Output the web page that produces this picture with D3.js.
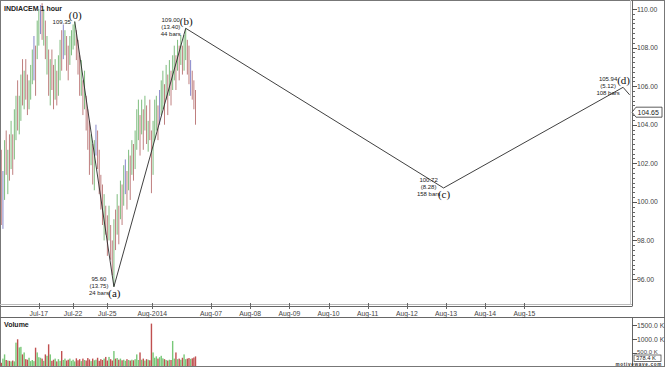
<!DOCTYPE html>
<html>
<head>
<meta charset="utf-8">
<script src="https://cdn.jsdelivr.net/npm/d3@7"></script>
<style>
body { margin: 0; background: #fff; }
svg { display: block; font-family: "Liberation Sans", Arial, sans-serif; }
</style>
</head>
<body>
<svg id="chart" width="665" height="367"></svg>
<script>
// hourly bars, INDIACEM
var opens = [100.2,99.4,100.5,103.0,101.0,103.0,102.0,103.0,102.6,103.6,
    105.8,103.9,104.6,107.0,105.2,107.0,106.2,105.0,105.6,106.4,
    107.5,107.8,107.6,108.4,109.4,110.0,108.5,109.2,106.9,107.6,
    105.4,107.5,106.8,105.6,106.5,105.9,106.7,108.6,108.2,108.0,
    108.4,107.8,107.3,107.9,108.1,108.5,108.7,108.1,107.3,105.6,
    106.1,105.0,105.3,104.5,104.0,102.2,102.8,101.0,103.2,103.4,
    102.4,101.2,100.6,99.0,99.6,99.0,98.2,98.6,97.8,96.9,
    99.3,98.5,99.6,99.3,100.6,99.9,101.3,101.4,100.8,102.0,
    101.5,102.7,101.8,102.9,103.4,104.3,103.6,104.5,103.8,105.0,
    103.4,104.8,103.5,101.6,103.5,104.0,104.8,105.0,104.6,105.0,
    105.8,105.4,106.3,105.7,106.6,105.9,106.5,107.4,107.0,107.9,
    107.2,108.0,107.0,107.6,108.2,107.6,106.3,106.6,106.1,105.5];
var highs = [102.7,101.6,103.2,103.7,102.7,103.5,104.2,103.5,104.8,105.5,
    106.3,105.5,106.6,107.4,106.8,107.4,106.6,106.3,107.1,107.9,
    108.6,108.1,109.4,110.0,110.2,110.3,110.0,109.4,108.6,107.9,
    107.4,107.9,107.1,107.4,106.8,107.6,108.4,108.9,109.2,108.9,
    108.6,108.1,108.6,108.9,109.2,109.35,108.9,108.4,107.6,107.35,
    106.3,106.8,105.5,104.8,104.2,103.5,103.0,103.2,104.0,103.7,
    102.7,101.4,100.9,100.4,99.8,99.3,99.8,98.8,98.0,99.1,
    99.6,100.4,99.8,101.1,100.9,101.9,102.2,101.6,102.7,102.4,
    103.2,103.0,103.7,104.8,105.3,104.5,105.3,104.8,105.5,105.0,
    104.2,105.3,103.7,104.2,105.3,105.5,105.0,105.8,106.3,106.8,
    106.1,107.1,106.6,107.35,106.8,107.6,108.1,107.6,108.4,108.1,
    108.65,108.1,108.65,109.0,108.4,108.1,107.35,106.8,106.3,105.8];
var lows = [98.8,98.6,100.1,101.4,100.4,101.1,101.7,101.4,102.2,103.2,
    103.7,103.5,104.2,105.0,104.8,105.3,104.5,104.8,105.3,106.1,
    106.3,105.5,107.4,108.1,108.7,108.4,108.1,107.4,106.6,105.5,
    105.0,105.8,104.8,105.3,105.0,105.5,106.3,106.8,107.4,107.6,
    106.8,106.3,107.1,107.6,107.9,108.1,107.35,106.6,105.5,105.5,
    104.5,104.8,103.7,102.7,101.4,101.9,100.9,100.6,102.4,101.7,
    100.4,99.6,98.8,98.0,98.3,97.2,98.0,97.0,96.2,95.6,
    97.5,98.3,97.8,99.1,98.8,99.8,100.4,99.6,100.6,100.1,
    101.4,101.1,101.7,102.7,103.2,102.4,103.5,102.7,103.7,103.0,
    102.6,103.2,100.45,101.4,103.2,103.7,103.2,104.0,104.5,104.8,
    104.0,105.3,104.5,105.5,105.0,105.8,106.3,105.8,106.8,106.3,
    107.1,106.6,106.8,107.35,106.6,106.1,105.5,105.3,104.8,104.0];
var closes = [99.4,99.45,102.6,101.8,102.3,101.6,103.9,102.0,104.4,105.2,
    104.1,105.3,106.4,105.4,106.5,105.6,104.9,105.9,106.9,107.6,
    107.5,106.0,109.2,109.8,109.4,108.9,109.6,107.6,108.3,105.8,
    106.8,106.1,105.0,107.0,105.5,107.3,108.1,107.2,108.2,108.7,
    107.1,106.6,108.3,108.6,108.9,109.1,107.6,106.9,105.9,107.0,
    104.8,106.4,104.0,103.0,101.8,103.2,101.2,102.9,103.2,102.0,
    100.7,99.9,99.1,100.0,98.6,97.5,99.5,97.3,96.5,98.7,
    97.9,100.1,98.1,100.9,99.2,101.6,101.3,99.9,102.4,100.4,
    102.9,101.5,103.4,104.5,105.0,102.8,105.0,103.0,105.2,103.3,
    104.0,103.5,101.0,103.9,105.0,105.3,103.5,105.0,106.1,106.5,
    104.3,106.9,104.8,107.1,105.3,107.4,107.9,106.1,108.2,106.6,
    108.5,106.9,108.4,108.8,106.9,106.4,106.3,105.5,105.0,104.65];
// volume in thousands
var volumes = [150,300,450,250,230,220,200,230,200,870,990,700,720,450,520,280,260,330,210,250,
    210,690,520,350,330,300,220,450,400,810,450,220,260,300,200,280,220,570,250,300,
    230,260,300,220,260,200,310,240,280,210,300,250,230,320,270,210,300,240,260,330,
    220,280,250,300,360,230,360,280,230,570,300,320,260,300,240,260,220,280,250,230,
    260,240,280,450,250,520,260,300,230,280,260,240,1550,520,330,380,300,350,400,310,
    280,250,230,260,250,930,300,520,280,300,260,330,450,280,300,320,290,310,340,378.4];

var dateTicks = [23, 44, 65, 92.5, 128.5, 152.5, 176.5, 200.5, 224.5, 248.5, 272.5, 296.5, 320.5];
var dateLabels = ["Jul-17", "Jul-22", "Jul-25", "Aug-2014", "Aug-07", "Aug-08", "Aug-09",
    "Aug-10", "Aug-11", "Aug-12", "Aug-13", "Aug-14", "Aug-15"];
var priceTicks = [96, 98, 100, 102, 104, 106, 108, 110];
var volTicks = [500, 1000, 1500];

// elliott wave points (bar index, price)
var waveIdx = [45, 69, 113, 271, 381];
var wavePrice = [109.35, 95.60, 109.00, 100.72, 105.94];
var waveNames = ["(0)", "(a)", "(b)", "(c)", "(d)"];
var waveRetrace = ["", "(13.75)", "(13.40)", "(8.28)", "(5.12)"];
var waveBars = ["", "24 bars", "44 bars", "158 bars", "108 bars"];
var waveTop = [true, false, true, false, true];
var tailIdx = 385, tailPrice = 105.55;

var lastPrice = 104.65, lastVolume = 378.4;

var svg = d3.select("#chart");
var W = 665, H = 367;
var axisX = 632;
var panelTop = 2, panelBottom = 305;
var volTop = 318, volBottom = 366;

var x = d3.scaleLinear().domain([0, 385]).range([1.3, 1.3 + 1.632 * 385]);
var y = d3.scaleLinear().domain([96, 110]).range([279, 9]);
var yv = d3.scaleLinear().domain([0, 1500]).range([367, 325]);

var green = "#6fb46f", red = "#b87070", blue = "#7878c4";
function barColor(i) {
    var d = closes[i] - opens[i];
    if (Math.abs(d) < 0.06) return blue;
    return d > 0 ? green : red;
}

svg.append("defs").append("clipPath").attr("id", "pclip")
    .append("rect").attr("x", 1).attr("y", panelTop).attr("width", axisX - 1).attr("height", panelBottom - panelTop);

// frames
svg.append("rect").attr("x", 0.5).attr("y", 0.5).attr("width", W - 1).attr("height", H - 1)
    .attr("fill", "none").attr("stroke", "#777");
svg.append("line").attr("x1", 0).attr("x2", axisX).attr("y1", 304.5).attr("y2", 304.5).attr("stroke", "#bbb");
svg.append("line").attr("x1", 0).attr("x2", axisX).attr("y1", 306.5).attr("y2", 306.5).attr("stroke", "#666");
svg.append("line").attr("x1", 0).attr("x2", W).attr("y1", volTop - 0.5).attr("y2", volTop - 0.5).attr("stroke", "#666");
svg.append("line").attr("x1", axisX + 0.5).attr("x2", axisX + 0.5).attr("y1", 0).attr("y2", 306.5).attr("stroke", "#666");
svg.append("line").attr("x1", axisX - 1.5).attr("x2", axisX - 1.5).attr("y1", 0).attr("y2", 304.5).attr("stroke", "#ccc");
svg.append("line").attr("x1", axisX + 0.5).attr("x2", axisX + 0.5).attr("y1", volTop).attr("y2", volBottom).attr("stroke", "#666");

// price bars
var bars = svg.append("g").attr("clip-path", "url(#pclip)");
bars.selectAll("line.bar").data(d3.range(highs.length)).enter().append("line")
    .attr("class", "bar")
    .attr("x1", function(i) { return x(i); })
    .attr("x2", function(i) { return x(i); })
    .attr("y1", function(i) { return y(highs[i]); })
    .attr("y2", function(i) { return y(lows[i]); })
    .attr("stroke", function(i) { return barColor(i); })
    .attr("stroke-width", 0.9);

// wave lines
var wavePts = waveIdx.map(function(d, i) { return [x(d), y(wavePrice[i])]; });
wavePts.push([x(tailIdx), y(tailPrice)]);
svg.append("path").attr("d", d3.line()(wavePts))
    .attr("fill", "none").attr("stroke", "#2a2a2a").attr("stroke-width", 0.9);

// wave labels
var fmt = d3.format(".2f");
waveIdx.forEach(function(idx, i) {
    var vx = x(idx), vy = y(wavePrice[i]);
    var g = svg.append("g").attr("font-size", 6).attr("fill", "#222").attr("text-anchor", "middle");
    if (i == 0) {
        g.append("text").attr("x", vx - 13).attr("y", vy + 2).text(fmt(wavePrice[i]));
    } else {
        var lines = [fmt(wavePrice[i]), waveRetrace[i], waveBars[i]];
        lines.forEach(function(t, k) {
            g.append("text").attr("x", vx - 15).attr("y", vy - 6 + k * 7).text(t);
        });
    }
    svg.append("text")
        .attr("x", vx + 0.5)
        .attr("y", waveTop[i] ? vy - 3 : vy + 10.5)
        .attr("text-anchor", "middle")
        .attr("font-family", "'Liberation Serif', 'Times New Roman', serif")
        .attr("font-size", 11)
        .attr("fill", "#111")
        .text(waveNames[i]);
});

// title
svg.append("text").attr("x", 4).attr("y", 11).attr("font-size", 7).attr("font-weight", "bold")
    .attr("fill", "#222").text("INDIACEM  1 hour");

// right price axis
var minor = d3.range(96, 110.01, 0.25);
svg.selectAll("line.minor").data(minor).enter().append("line")
    .attr("x1", axisX).attr("x2", axisX + 3)
    .attr("y1", function(d) { return Math.round(y(d)) + 0.5; })
    .attr("y2", function(d) { return Math.round(y(d)) + 0.5; })
    .attr("stroke", "#666");
svg.selectAll("line.major").data(priceTicks).enter().append("line")
    .attr("x1", axisX).attr("x2", axisX + 5)
    .attr("y1", function(d) { return Math.round(y(d)) + 0.5; })
    .attr("y2", function(d) { return Math.round(y(d)) + 0.5; })
    .attr("stroke", "#555");
svg.selectAll("text.ptick").data(priceTicks).enter().append("text")
    .attr("x", axisX + 5).attr("y", function(d) { return y(d) + 2.5; })
    .attr("font-size", 6.8).attr("fill", "#444")
    .text(function(d) { return fmt(d); });

// last price marker
var ly = y(lastPrice);
svg.append("path")
    .attr("d", "M" + (axisX) + "," + ly + "L" + (axisX + 4) + "," + (ly - 5) + "L" + (W - 3) + "," + (ly - 5) +
        "L" + (W - 3) + "," + (ly + 5) + "L" + (axisX + 4) + "," + (ly + 5) + "Z")
    .attr("fill", "#fff").attr("stroke", "#333").attr("stroke-width", 0.8);
svg.append("text").attr("x", axisX + 5.5).attr("y", ly + 2.5).attr("font-size", 7).attr("fill", "#222")
    .text(fmt(lastPrice));

// date axis
svg.selectAll("line.dtick").data(dateTicks).enter().append("line")
    .attr("x1", function(d) { return Math.round(x(d)) + 0.5; })
    .attr("x2", function(d) { return Math.round(x(d)) + 0.5; })
    .attr("y1", 303).attr("y2", 309).attr("stroke", "#666");
svg.selectAll("text.dlab").data(dateTicks).enter().append("text")
    .attr("x", function(d) { return x(d); }).attr("y", 315.5)
    .attr("text-anchor", "middle").attr("font-size", 6.8).attr("fill", "#444")
    .text(function(d, i) { return dateLabels[i]; });

// volume
svg.append("text").attr("x", 4).attr("y", 327).attr("font-size", 7).attr("font-weight", "bold")
    .attr("fill", "#222").text("Volume");
svg.selectAll("rect.vol").data(volumes).enter().append("rect")
    .attr("x", function(d, i) { return x(i) - 0.7; })
    .attr("width", 1.4)
    .attr("y", function(d) { return yv(d); })
    .attr("height", function(d) { return volBottom - yv(d); })
    .attr("fill", function(d, i) { return closes[i] >= opens[i] ? "#78c878" : "#c05050"; });

svg.selectAll("line.vtick").data(volTicks).enter().append("line")
    .attr("x1", axisX).attr("x2", axisX + 5)
    .attr("y1", function(d) { return Math.round(yv(d)) + 0.5; })
    .attr("y2", function(d) { return Math.round(yv(d)) + 0.5; })
    .attr("stroke", "#555");
svg.selectAll("text.vlab").data(volTicks).enter().append("text")
    .attr("x", axisX + 5).attr("y", function(d) { return yv(d) + (d == 500 ? 0.8 : 2.5); })
    .attr("font-size", function(d) { return d == 500 ? 6 : 6.8; }).attr("fill", "#444")
    .text(function(d) { return d3.format(".1f")(d) + " K"; });

svg.append("rect").attr("x", axisX + 2).attr("y", 355).attr("width", 27).attr("height", 6.5)
    .attr("fill", "#fff").attr("stroke", "#333").attr("stroke-width", 0.7);
svg.append("text").attr("x", axisX + 4).attr("y", 360.3).attr("font-size", 5.8).attr("fill", "#222")
    .text(d3.format(".1f")(lastVolume) + " K");

svg.append("text").attr("x", W - 3).attr("y", 366).attr("text-anchor", "end")
    .attr("font-size", 4.6).attr("font-weight", "bold").attr("letter-spacing", 0.7)
    .attr("fill", "#333").text("motivewave.com");
</script>
</body>
</html>
